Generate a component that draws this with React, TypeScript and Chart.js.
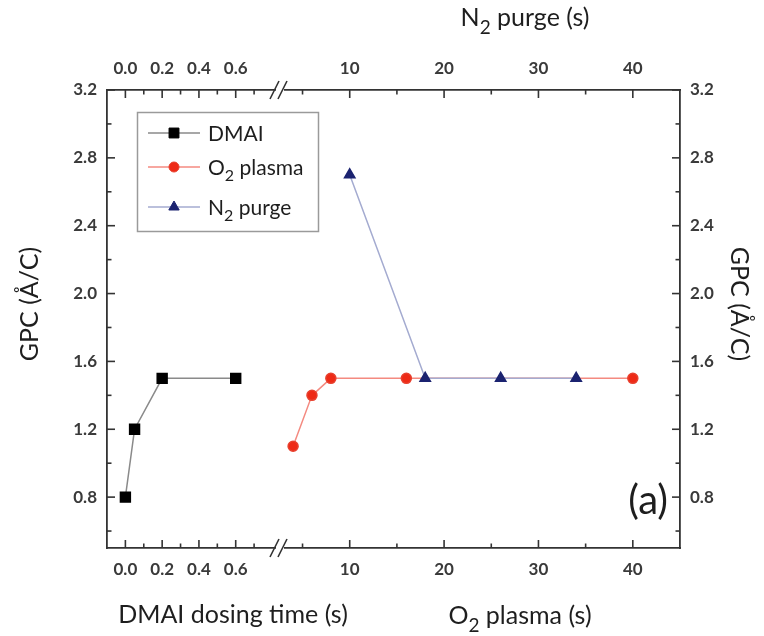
import React, { useEffect, useRef } from 'react';
import { Chart, registerables } from 'chart.js';
import { drawPoint } from 'chart.js/helpers';

Chart.register(...registerables);

// ---- data ----
const dmaiTime = [0, 0.05, 0.2, 0.6];
const dmaiGPC = [0.8, 1.2, 1.5, 1.5];
const o2Time = [4, 6, 8, 16, 40];
const o2GPC = [1.1, 1.4, 1.5, 1.5, 1.5];
const n2Time = [10, 18, 26, 34];
const n2GPC = [2.7, 1.5, 1.5, 1.5];

const dmaiTicks = [0, 0.2, 0.4, 0.6];
const dmaiMinor = [0.1, 0.3, 0.5, 0.7];
const secTicks = [10, 20, 30, 40];
const secMinor = [5, 15, 25, 35];
const gpcTicks = [0.8, 1.2, 1.6, 2.0, 2.4, 2.8, 3.2];
const gpcMinor = [0.6, 1.0, 1.4, 1.8, 2.2, 2.6, 3.0];

const seriesLabels = ['DMAI', 'O₂ plasma', 'N₂ purge'];
const yTitle = 'GPC (Å/C)';
const xTitleDmai = 'DMAI dosing time (s)';
const xTitleO2 = 'O₂ plasma (s)';
const xTitleN2 = 'N₂ purge (s)';
const panelLabel = '(a)';

// ---- style ----
const FAMILY = 'Lato, "Open Sans", sans-serif';
const AXIS = '#333333';
const TEXT = '#1e1e1e';
const TICKTEXT = '#3a3a3a';

type Seg = { t: string; sub: boolean };
function splitRich(text: string): Seg[] {
  const out: Seg[] = [];
  let cur = '';
  for (const ch of text) {
    if (ch === '₂') {
      if (cur) out.push({ t: cur, sub: false });
      cur = '';
      out.push({ t: '2', sub: true });
    } else cur += ch;
  }
  if (cur) out.push({ t: cur, sub: false });
  return out;
}
function segFont(seg: Seg, size: number) {
  return `${seg.sub ? Math.round(size * 0.76) : size}px ${FAMILY}`;
}
function richWidth(ctx: CanvasRenderingContext2D, text: string, size: number) {
  let w = 0;
  for (const seg of splitRich(text)) {
    ctx.font = segFont(seg, size);
    w += ctx.measureText(seg.t).width;
  }
  return w;
}
function drawRich(
  ctx: CanvasRenderingContext2D,
  text: string,
  x: number,
  y: number,
  size: number,
  align: 'left' | 'center' | 'right',
  color: string
) {
  const w = richWidth(ctx, text, size);
  let cx = align === 'center' ? x - w / 2 : align === 'right' ? x - w : x;
  ctx.fillStyle = color;
  ctx.textBaseline = 'alphabetic';
  ctx.textAlign = 'left';
  for (const seg of splitRich(text)) {
    ctx.font = segFont(seg, size);
    ctx.fillText(seg.t, cx, seg.sub ? y + size * 0.3 : y);
    cx += ctx.measureText(seg.t).width;
  }
}

const tickFont = { family: FAMILY, size: 17, weight: 'bold' };

function xScale(
  min: number,
  max: number,
  ticksArr: number[],
  position: 'top' | 'bottom',
  weight: number,
  fmt: (v: number) => string
) {
  return {
    type: 'linear',
    position,
    stack: position,
    stackWeight: weight,
    min,
    max,
    grid: { display: false, drawTicks: false },
    border: { display: true, color: AXIS, width: 1.8 },
    afterBuildTicks: (s: any) => {
      s.ticks = ticksArr.map((v) => ({ value: v }));
    },
    afterFit: (s: any) => {
      s.height = position === 'top' ? 90 : 88;
    },
    ticks: {
      autoSkip: false,
      maxRotation: 0,
      padding: 11,
      color: TICKTEXT,
      font: tickFont,
      callback: (v: any) => fmt(Number(v)),
    },
  };
}

function yScale(position: 'left' | 'right', width: number) {
  return {
    type: 'linear',
    position,
    min: 0.5,
    max: 3.2,
    grid: { display: false, drawTicks: false },
    border: { display: true, color: AXIS, width: 1.8 },
    afterBuildTicks: (s: any) => {
      s.ticks = gpcTicks.map((v) => ({ value: v }));
    },
    afterFit: (s: any) => {
      s.width = width;
    },
    ticks: {
      autoSkip: false,
      padding: 10,
      color: TICKTEXT,
      font: tickFont,
      callback: (v: any) => Number(v).toFixed(1),
    },
  };
}

const decorPlugin = {
  id: 'decor',
  afterDraw(chart: any) {
    const ctx: CanvasRenderingContext2D = chart.ctx;
    const ca = chart.chartArea;
    const s = chart.scales;
    ctx.save();
    ctx.strokeStyle = AXIS;
    ctx.lineWidth = 1.6;
    const MAJ = 8;
    const MIN = 4.5;
    const xt = (scale: any, majors: number[], minors: number[], yAxis: number, dir: number) => {
      const draw = (v: number, len: number) => {
        const px = scale.getPixelForValue(v);
        ctx.beginPath();
        ctx.moveTo(px, yAxis);
        ctx.lineTo(px, yAxis + dir * len);
        ctx.stroke();
      };
      majors.forEach((v) => draw(v, MAJ));
      minors.forEach((v) => draw(v, MIN));
    };
    xt(s.xL, dmaiTicks, dmaiMinor, ca.bottom, -1);
    xt(s.xR, secTicks, secMinor, ca.bottom, -1);
    xt(s.xTL, dmaiTicks, dmaiMinor, ca.top, 1);
    xt(s.xTR, secTicks, secMinor, ca.top, 1);
    const yt = (scale: any, xAxis: number, dir: number) => {
      const draw = (v: number, len: number) => {
        const py = scale.getPixelForValue(v);
        ctx.beginPath();
        ctx.moveTo(xAxis, py);
        ctx.lineTo(xAxis + dir * len, py);
        ctx.stroke();
      };
      gpcTicks.forEach((v) => draw(v, MAJ));
      gpcMinor.forEach((v) => draw(v, MIN));
    };
    yt(s.y, ca.left, 1);
    yt(s.y2, ca.right, -1);

    // axis break marks
    const bx = s.xL.right + 2;
    [ca.top, ca.bottom].forEach((yy: number) => {
      ctx.fillStyle = '#ffffff';
      ctx.fillRect(bx - 4, yy - 3, 8, 6);
      ctx.strokeStyle = AXIS;
      ctx.lineWidth = 1.6;
      ctx.beginPath();
      ctx.moveTo(bx - 10, yy + 9);
      ctx.lineTo(bx - 1, yy - 9);
      ctx.moveTo(bx - 2, yy + 9);
      ctx.lineTo(bx + 7, yy - 9);
      ctx.stroke();
    });

    // axis titles
    const TS = 25;
    drawRich(ctx, xTitleDmai, 233, 623, TS, 'center', TEXT);
    drawRich(ctx, xTitleO2, 520, 624, TS, 'center', TEXT);
    drawRich(ctx, xTitleN2, 525, 26, TS, 'center', TEXT);
    ctx.save();
    ctx.translate(29, 304);
    ctx.rotate(-Math.PI / 2);
    drawRich(ctx, yTitle, 0, 9, TS, 'center', TEXT);
    ctx.restore();
    ctx.save();
    ctx.translate(740, 304);
    ctx.rotate(Math.PI / 2);
    drawRich(ctx, yTitle, 0, 9, TS, 'center', TEXT);
    ctx.restore();

    // panel label
    ctx.fillStyle = TEXT;
    ctx.font = `40px ${FAMILY}`;
    ctx.textAlign = 'right';
    ctx.textBaseline = 'alphabetic';
    ctx.fillText(panelLabel, 668, 514);

    // legend
    ctx.fillStyle = '#ffffff';
    ctx.fillRect(137, 112, 181, 119);
    ctx.strokeStyle = '#9a9a9a';
    ctx.lineWidth = 1.5;
    ctx.strokeRect(137.5, 112.5, 181, 119);
    const rows = [133, 167, 207];
    chart.data.datasets.forEach((ds: any, i: number) => {
      const ry = rows[i];
      ctx.strokeStyle = ds.borderColor;
      ctx.lineWidth = ds.borderWidth;
      ctx.beginPath();
      ctx.moveTo(148, ry);
      ctx.lineTo(200, ry);
      ctx.stroke();
      ctx.fillStyle = ds.pointBackgroundColor;
      ctx.strokeStyle = ds.pointBorderColor;
      ctx.lineWidth = 1;
      drawPoint(ctx, { pointStyle: ds.pointStyle, radius: ds.pointRadius, rotation: 0, borderWidth: 1 } as any, 174, ry);
      drawRich(ctx, ds.label, 208, ry + 7.5, 21, 'left', TEXT);
    });
    ctx.restore();
  },
};

export default function App() {
  const ref = useRef<HTMLCanvasElement>(null);
  useEffect(() => {
    const canvas = ref.current;
    if (!canvas) return;
    const toPts = (xs: number[], ys: number[]) => xs.map((x, i) => ({ x, y: ys[i] }));
    const chart = new Chart(canvas, {
      type: 'scatter',
      data: {
        datasets: [
          {
            label: seriesLabels[0],
            data: toPts(dmaiTime, dmaiGPC),
            xAxisID: 'xL',
            yAxisID: 'y',
            showLine: true,
            borderColor: '#8a8a8a',
            borderWidth: 1.5,
            pointStyle: 'rect',
            pointRadius: 7,
            pointBackgroundColor: '#000000',
            pointBorderColor: '#000000',
            order: 2,
          },
          {
            label: seriesLabels[1],
            data: toPts(o2Time, o2GPC),
            xAxisID: 'xR',
            yAxisID: 'y',
            showLine: true,
            borderColor: '#f48a80',
            borderWidth: 1.5,
            pointStyle: 'circle',
            pointRadius: 5,
            pointBackgroundColor: '#ee2a16',
            pointBorderColor: '#e8402e',
            order: 1,
          },
          {
            label: seriesLabels[2],
            data: toPts(n2Time, n2GPC),
            xAxisID: 'xTR',
            yAxisID: 'y',
            showLine: true,
            borderColor: '#a4abd0',
            borderWidth: 1.5,
            pointStyle: 'triangle',
            pointRadius: 6,
            pointBackgroundColor: '#1b2370',
            pointBorderColor: '#1b2370',
            order: 0,
          },
        ],
      },
      options: {
        responsive: false,
        animation: false,
        layout: { padding: 0 },
        plugins: { legend: { display: false }, tooltip: { enabled: false } },
        scales: {
          xL: xScale(-0.1, 0.83, dmaiTicks, 'bottom', 171, (v) => v.toFixed(1)),
          xR: xScale(2.4, 45, secTicks, 'bottom', 402, (v) => String(v)),
          xTR: xScale(2.4, 45, secTicks, 'top', 402, (v) => String(v)),
          xTL: xScale(-0.1, 0.83, dmaiTicks, 'top', 171, (v) => v.toFixed(1)),
          y: yScale('left', 107),
          y2: yScale('right', 84),
        } as any,
      },
      plugins: [decorPlugin],
    } as any);
    return () => chart.destroy();
  }, []);
  return (
    <div style={{ position: 'fixed', left: 0, top: 0, width: 764, height: 636, background: '#fff' }}>
      <canvas ref={ref} width={764} height={636} style={{ width: 764, height: 636, display: 'block' }} />
    </div>
  );
}
